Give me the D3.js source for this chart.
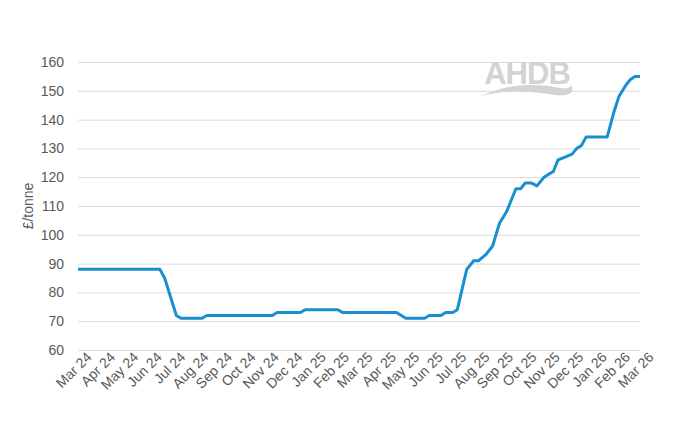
<!DOCTYPE html>
<html>
<head>
<meta charset="utf-8">
<script src="https://cdn.jsdelivr.net/npm/d3@7"></script>
<style>
  body { margin: 0; background: #fff; }
  text { font-family: "Liberation Sans", Arial, sans-serif; }
</style>
</head>
<body>
<svg id="chart" width="679" height="438"></svg>
<script>
// month labels (one tick per month)
const monthLabels = ["Mar 24","Apr 24","May 24","Jun 24","Jul 24","Aug 24","Sep 24","Oct 24","Nov 24",
  "Dec 24","Jan 25","Feb 25","Mar 25","Apr 25","May 25","Jun 25","Jul 25","Aug 25","Sep 25",
  "Oct 25","Nov 25","Dec 25","Jan 26","Feb 26","Mar 26"];
const yTicks = [60,70,80,90,100,110,120,130,140,150,160];

// position in months since Mar 24, and price in £/tonne
const monthPos = [0, 3.5, 3.7, 4.2, 4.4, 5.3, 5.5, 8.3, 8.5, 9.5, 9.7, 11.1, 11.3, 13.6, 14.0, 14.8,
  15.0, 15.5, 15.7, 16.0, 16.2, 16.6, 16.9, 17.1, 17.4, 17.7, 18.0, 18.3, 18.5, 18.7, 18.9, 19.1,
  19.35, 19.6, 19.9, 20.1, 20.3, 20.5, 20.8, 21.1, 21.3, 21.5, 21.7, 22.6, 22.9, 23.1, 23.4, 23.6, 23.8, 24.0];
const price = [88, 88, 85, 72, 71, 71, 72, 72, 73, 73, 74, 74, 73, 73, 71, 71,
  72, 72, 73, 73, 74, 88, 91, 91, 93, 96, 104, 108, 112, 116, 116, 118,
  118, 117, 120, 121, 122, 126, 127, 128, 130, 131, 134, 134, 143, 148, 152, 154, 155, 155];

const svg = d3.select("#chart");
const area = { left: 78, right: 640, top: 62, bottom: 350 };

const x = d3.scaleLinear().domain([0, 24]).range([area.left, area.right]);
const y = d3.scaleLinear().domain([60, 160]).range([area.bottom, area.top]);

// gridlines
svg.append("g")
  .attr("transform", `translate(${area.left},0)`)
  .call(d3.axisLeft(y).tickValues(yTicks).tickSize(-(area.right - area.left)).tickFormat(""))
  .call(g => g.select(".domain").remove())
  .call(g => g.selectAll("line").attr("stroke", "#d9d9d9"));

// y labels
svg.append("g")
  .attr("transform", `translate(${area.left},0)`)
  .call(d3.axisLeft(y).tickValues(yTicks).tickSize(0).tickPadding(14))
  .call(g => g.select(".domain").remove())
  .call(g => g.selectAll("text").attr("fill", "#595959").style("font-size", "14px"));

svg.append("text")
  .attr("transform", `translate(33,${(area.top + area.bottom) / 2}) rotate(-90)`)
  .attr("text-anchor", "middle")
  .attr("fill", "#595959")
  .style("font-size", "14px")
  .text("£/tonne");

// x labels
svg.append("g")
  .attr("transform", `translate(0,${area.bottom})`)
  .call(d3.axisBottom(x).tickValues(d3.range(25)).tickSize(0).tickFormat(i => monthLabels[i]))
  .call(g => g.select(".domain").remove())
  .call(g => g.selectAll("text")
    .attr("fill", "#595959").style("font-size", "14px")
    .style("text-anchor", "end")
    .attr("dx", "0.3em").attr("dy", "0.9em")
    .attr("transform", "rotate(-45)"));

// logo
const logo = svg.append("g").attr("fill", "#d3d3d3");
logo.append("text").attr("x", 527).attr("y", 84).attr("text-anchor", "middle")
  .style("font-size", "31px").style("font-weight", "bold").style("letter-spacing", "-1px").text("AHDB");
logo.append("path")
  .attr("d", "M482,96 C510,82 540,84 560,88 C566,89 570,88 572,85 L572,92 C568,96 560,96 548,94 C528,91 505,90 482,96 Z");

// line
const line = d3.line().x((d, i) => x(monthPos[i])).y(d => y(d));
svg.append("path")
  .datum(price)
  .attr("fill", "none")
  .attr("stroke", "#1a8fcf")
  .attr("stroke-width", 3)
  .attr("stroke-linejoin", "round")
  .attr("d", line);
</script>
</body>
</html>
